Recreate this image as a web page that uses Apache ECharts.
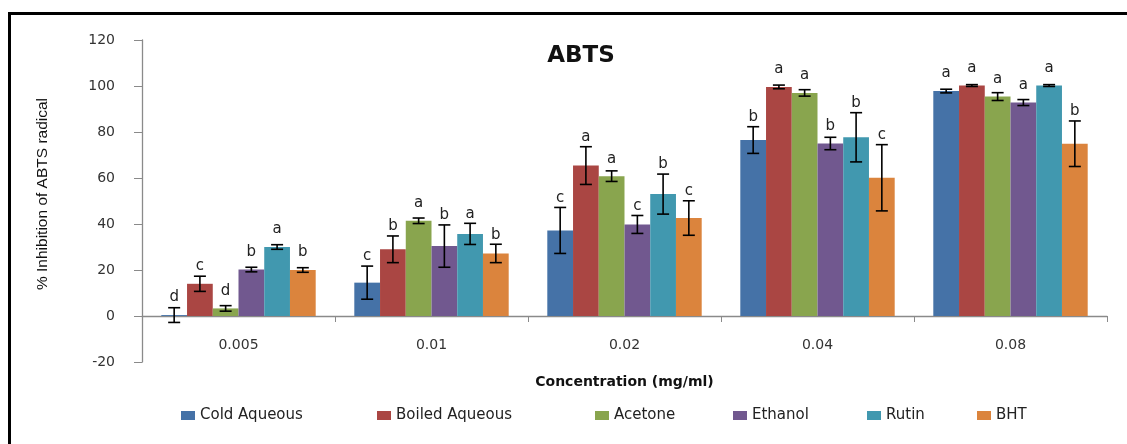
<!DOCTYPE html>
<html>
<head>
<meta charset="utf-8">
<script src="https://cdn.jsdelivr.net/npm/echarts@6/dist/echarts.min.js"></script>
<style>
  html, body { margin: 0; padding: 0; background: #fff; }
  #chart { width: 1127px; height: 444px; }
</style>
</head>
<body>
<div id="chart"></div>
<script>
// Concentrations on the x axis
const concentrations = ['0.005', '0.01', '0.02', '0.04', '0.08'];

// Extracts / standards
const seriesNames = ['Cold Aqueous', 'Boiled Aqueous', 'Acetone', 'Ethanol', 'Rutin', 'BHT'];

// Mean % inhibition of ABTS radical, one array per extract
const coldAqueous   = [0.4, 14.5, 37.2, 76.5, 97.8];
const boiledAqueous = [14.0, 29.0, 65.4, 99.6, 100.2];
const acetone       = [3.3, 41.4, 60.8, 97.0, 95.4];
const ethanol       = [20.2, 30.4, 39.8, 75.0, 92.8];
const rutin         = [30.0, 35.7, 53.0, 77.7, 100.2];
const bht           = [20.0, 27.2, 42.6, 60.1, 74.9];

// Standard deviations (error bars)
const coldAqueousSD   = [3.2, 7.2, 10.0, 5.8, 0.8];
const boiledAqueousSD = [3.3, 5.8, 8.2, 0.8, 0.4];
const acetoneSD       = [1.2, 1.2, 2.3, 1.4, 1.7];
const ethanolSD       = [1.0, 9.2, 3.9, 2.7, 1.3];
const rutinSD         = [1.0, 4.6, 8.7, 10.7, 0.4];
const bhtSD           = [1.0, 4.0, 7.5, 14.4, 9.9];

// Significance letters
const coldAqueousSig   = ['d', 'c', 'c', 'b', 'a'];
const boiledAqueousSig = ['c', 'b', 'a', 'a', 'a'];
const acetoneSig       = ['d', 'a', 'a', 'a', 'a'];
const ethanolSig       = ['b', 'b', 'c', 'b', 'a'];
const rutinSig         = ['a', 'a', 'b', 'b', 'a'];
const bhtSig           = ['b', 'b', 'c', 'c', 'b'];

// Axis ticks
const yMin = -20, yMax = 120, yStep = 20;

const means   = [coldAqueous, boiledAqueous, acetone, ethanol, rutin, bht];
const sds     = [coldAqueousSD, boiledAqueousSD, acetoneSD, ethanolSD, rutinSD, bhtSD];
const letters = [coldAqueousSig, boiledAqueousSig, acetoneSig, ethanolSig, rutinSig, bhtSig];
const colors  = ['#4572A7', '#AA4643', '#89A54E', '#71588F', '#4198AF', '#DB843D'];

const CATEGORY_GAP = 0.2;   // fraction of band left empty between groups
const tickFont = 'DejaVu Sans';

const chart = echarts.init(document.getElementById('chart'), null, { renderer: 'canvas' });

// Error bar + letter for one extract, offset to sit over its bar in the group
function errorRenderer(sIdx) {
  return function (params, api) {
    const cat = api.value(0);
    const mean = api.value(1);
    const sd = api.value(2);
    const band = api.size([1, 0])[0];
    const barW = band * (1 - CATEGORY_GAP) / seriesNames.length;
    const cx = api.coord([cat, 0])[0] - band * (1 - CATEGORY_GAP) / 2 + barW * (sIdx + 0.5);
    const yHi = api.coord([cat, mean + sd])[1];
    const yLo = api.coord([cat, mean - sd])[1];
    const yBar = api.coord([cat, mean])[1];
    const cap = 6;
    const lineStyle = { stroke: '#000', lineWidth: 1.6 };
    const labelBottom = Math.min(yBar - 10, yHi - 2);
    return {
      type: 'group',
      children: [
        { type: 'line', shape: { x1: cx, y1: yHi, x2: cx, y2: yLo }, style: lineStyle },
        { type: 'line', shape: { x1: cx - cap, y1: yHi, x2: cx + cap, y2: yHi }, style: lineStyle },
        { type: 'line', shape: { x1: cx - cap, y1: yLo, x2: cx + cap, y2: yLo }, style: lineStyle },
        {
          type: 'text',
          x: cx,
          y: labelBottom,
          style: {
            text: letters[sIdx][params.dataIndex],
            fill: '#222',
            font: '15px "' + tickFont + '"',
            align: 'center',
            verticalAlign: 'bottom'
          }
        }
      ]
    };
  };
}

const barSeries = seriesNames.map((name, i) => ({
  name: name,
  type: 'bar',
  data: means[i],
  barGap: '0%',
  barCategoryGap: (CATEGORY_GAP * 100) + '%',
  itemStyle: { color: colors[i] },
  silent: true,
  animation: false
}));

const errSeries = seriesNames.map((name, i) => ({
  name: name + ' SD',
  type: 'custom',
  renderItem: errorRenderer(i),
  data: means[i].map((m, k) => [k, m, sds[i][k]]),
  encode: { x: 0, y: 1 },
  z: 5,
  silent: true,
  animation: false
}));

// Legend positions along the bottom row
const legendLeft = [181, 377, 595, 733, 867, 977];
const legends = seriesNames.map((name, i) => ({
  data: [name],
  left: legendLeft[i],
  top: 408,
  padding: 0,
  icon: 'rect',
  itemWidth: 14,
  itemHeight: 9,
  selectedMode: false,
  textStyle: { fontFamily: tickFont, fontSize: 15, color: '#222' }
}));

chart.setOption({
  backgroundColor: '#fff',
  animation: false,
  title: {
    text: 'ABTS',
    left: 576,
    top: 40,
    textAlign: 'center',
    textStyle: { fontFamily: tickFont, fontWeight: 'bold', fontSize: 23, color: '#111' }
  },
  legend: legends,
  grid: { left: 142, right: 20, top: 40, height: 322, containLabel: false },
  xAxis: {
    type: 'category',
    data: concentrations,
    axisLine: { onZero: true, lineStyle: { color: '#8a8a8a', width: 1.3 } },
    axisTick: { show: true, length: 6, inside: false, lineStyle: { color: '#8a8a8a' } },
    axisLabel: { margin: -24, fontFamily: tickFont, fontSize: 14, color: '#333' },
    name: 'Concentration (mg/ml)',
    nameLocation: 'middle',
    nameGap: 13,
    nameTextStyle: { fontFamily: tickFont, fontWeight: 'bold', fontSize: 14, color: '#111' }
  },
  yAxis: {
    type: 'value',
    min: yMin,
    max: yMax,
    interval: yStep,
    axisLine: { show: true, lineStyle: { color: '#8a8a8a', width: 1.3 } },
    axisTick: { show: true, length: 8, lineStyle: { color: '#8a8a8a' } },
    axisLabel: { margin: 27, fontFamily: tickFont, fontSize: 14, color: '#333' },
    splitLine: { show: false }
  },
  graphic: [
    {
      type: 'rect',
      shape: { x: 9.5, y: 13.5, width: 1300, height: 600 },
      style: { fill: null, stroke: '#000', lineWidth: 3 },
      silent: true
    },
    {
      type: 'text',
      x: 43, y: 194,
      rotation: Math.PI / 2,
      style: {
        text: '% Inhibition of ABTS radical',
        font: '15.5px "Liberation Sans Narrow", "Liberation Sans", sans-serif',
        fill: '#111',
        align: 'center',
        verticalAlign: 'middle'
      },
      silent: true
    }
  ],
  series: barSeries.concat(errSeries)
});
</script>
</body>
</html>
